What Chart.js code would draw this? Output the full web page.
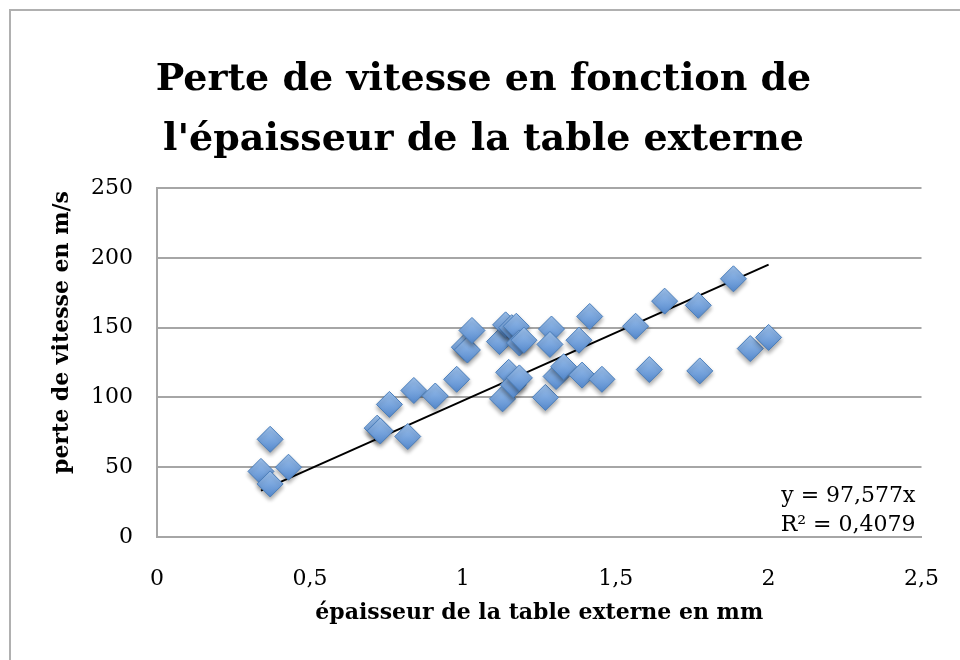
<!DOCTYPE html>
<html>
<head>
<meta charset="utf-8">
<script src="https://cdn.jsdelivr.net/npm/chart.js@4"></script>
<style>
  html, body { margin: 0; padding: 0; background: #fff; }
  #wrap { width: 960px; height: 660px; }
</style>
</head>
<body>
<div id="wrap"><canvas id="chart"></canvas></div>
<script>
// mesures : épaisseur (mm) et perte de vitesse (m/s)
const epaisseur = [0.34, 0.37, 0.37, 0.43, 0.72, 0.73, 0.76, 0.82, 0.84, 0.91,
  0.98, 1.005, 1.015, 1.03, 1.12, 1.14, 1.16, 1.175, 1.185, 1.20,
  1.13, 1.15, 1.165, 1.185, 1.27, 1.29, 1.285, 1.305, 1.33, 1.38,
  1.39, 1.415, 1.455, 1.565, 1.61, 1.66, 1.77, 1.775, 1.885, 1.94, 2.0];
const perte = [47, 38, 70, 50, 78, 76, 95, 72, 105, 101,
  113, 136, 134, 148, 140, 152, 150, 151, 139, 141,
  99, 118, 109, 114, 100, 149, 138, 115, 122, 141,
  116, 158, 113, 151, 120, 169, 166, 119, 185, 135, 143];

// régression linéaire passant par l'origine
const pente = 97.577;
const r2 = 0.4079;
const equation = ['y = 97,577x', 'R² = 0,4079'];

const xTicks = [0, 0.5, 1, 1.5, 2, 2.5];
const yTicks = [0, 50, 100, 150, 200, 250];

const titreY = 'perte de vitesse en m/s';
const serif = '"DejaVu Serif", "Liberation Serif", serif';
const gris = '#a6a6a6';

const points = epaisseur.map((x, i) => ({ x, y: perte[i] }));
const xMin = Math.min(...epaisseur), xMax = Math.max(...epaisseur);
const tendance = [{ x: xMin, y: pente * xMin }, { x: xMax, y: pente * xMax }];

// dégradé vertical pour chaque losange
function remplissage(c) {
  const chart = c.chart;
  const sy = chart.scales.y;
  const py = sy && c.raw ? sy.getPixelForValue(c.raw.y) : NaN;
  if (!isFinite(py)) return '#6f9fd8';
  const g = chart.ctx.createLinearGradient(0, py - 13, 0, py + 13);
  g.addColorStop(0, '#a0c4ef');
  g.addColorStop(1, '#5589cd');
  return g;
}

const cadre = {
  id: 'cadre',
  beforeDraw(chart) {
    const ctx = chart.ctx;
    ctx.save();
    ctx.strokeStyle = '#b0b0b0';
    ctx.lineWidth = 2;
    ctx.strokeRect(10, 10, 1000, 700);
    ctx.restore();
  },
  beforeDatasetDraw(chart, args) {
    if (args.index !== 0) return;
    const ctx = chart.ctx;
    ctx.save();
    ctx.shadowColor = 'rgba(0,0,0,0.35)';
    ctx.shadowBlur = 4;
    ctx.shadowOffsetY = 3;
  },
  afterDatasetDraw(chart, args) {
    if (args.index !== 0) return;
    chart.ctx.restore();
  },
  afterDraw(chart) {
    const { ctx, chartArea } = chart;
    ctx.save();
    ctx.fillStyle = '#000';
    ctx.font = '22px ' + serif;
    ctx.textAlign = 'right';
    ctx.textBaseline = 'middle';
    ctx.fillText(equation[0], chartArea.right - 6, chartArea.bottom - 41);
    ctx.fillText(equation[1], chartArea.right - 6, chartArea.bottom - 12);
    // titre de l'axe vertical, un peu remonté
    ctx.translate(chartArea.left - 95, (chartArea.top + chartArea.bottom) / 2 - 30);
    ctx.rotate(-Math.PI / 2);
    ctx.textAlign = 'center';
    ctx.font = 'bold 22px ' + serif;
    ctx.fillText(titreY, 0, 0);
    ctx.restore();
  }
};

new Chart(document.getElementById('chart'), {
  type: 'scatter',
  data: {
    datasets: [
      {
        data: points,
        pointStyle: 'rectRot',
        pointRadius: 13,
        pointHoverRadius: 13,
        backgroundColor: remplissage,
        borderColor: '#4a7ebb',
        borderWidth: 1
      },
      {
        data: tendance,
        showLine: true,
        borderColor: '#000',
        borderWidth: 2,
        pointRadius: 0,
        pointHoverRadius: 0
      }
    ]
  },
  options: {
    responsive: true,
    maintainAspectRatio: false,
    animation: false,
    layout: { padding: { top: 10, left: 45, right: 38, bottom: 0 } },
    plugins: {
      legend: { display: false },
      tooltip: { enabled: false },
      title: {
        display: true,
        text: ['Perte de vitesse en fonction de', "l'épaisseur de la table externe"],
        color: '#000',
        font: { family: serif, size: 38, weight: 'bold', lineHeight: 1.58 },
        padding: { top: 40, bottom: 18 }
      }
    },
    scales: {
      x: {
        type: 'linear',
        min: 0,
        max: 2.5,
        afterBuildTicks: s => { s.ticks = xTicks.map(v => ({ value: v })); },
        afterFit: s => { s.height = 123; },
        grid: { display: false },
        border: { display: true, color: gris, width: 2 },
        ticks: {
          color: '#000',
          padding: 21,
          font: { family: serif, size: 22 },
          callback: v => String(v).replace('.', ',')
        },
        title: {
          display: true,
          text: 'épaisseur de la table externe en mm',
          color: '#000',
          font: { family: serif, size: 22, weight: 'bold' },
          padding: { top: 4, bottom: 34 }
        }
      },
      y: {
        min: 0,
        max: 250,
        afterBuildTicks: s => { s.ticks = yTicks.map(v => ({ value: v })); },
        afterFit: s => { s.width = 112; },
        grid: { color: gris, lineWidth: 2, drawTicks: false },
        border: { display: true, color: gris, width: 2 },
        ticks: {
          color: '#000',
          padding: 24,
          font: { family: serif, size: 22 }
        }
      }
    }
  },
  plugins: [cadre]
});
</script>
</body>
</html>
